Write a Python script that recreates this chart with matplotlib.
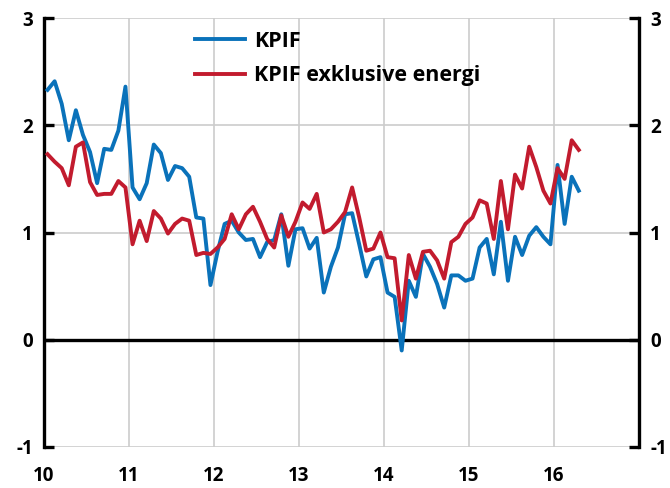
import matplotlib.pyplot as plt
import numpy as np

# monthly values, Jan 2010 - Apr 2016
kpif = [2.33, 2.41, 2.20, 1.86, 2.14, 1.91, 1.75, 1.46, 1.78, 1.77, 1.95, 2.36,
        1.42, 1.31, 1.46, 1.82, 1.74, 1.49, 1.62, 1.60, 1.52, 1.14, 1.13, 0.51,
        0.82, 1.08, 1.11, 1.00, 0.93, 0.94, 0.77, 0.91, 0.93, 1.17, 0.69, 1.03,
        1.04, 0.85, 0.95, 0.44, 0.68, 0.86, 1.17, 1.18, 0.89, 0.59, 0.75, 0.77,
        0.44, 0.40, -0.10, 0.55, 0.40, 0.80, 0.68, 0.52, 0.30, 0.60, 0.60, 0.55,
        0.57, 0.86, 0.94, 0.61, 1.10, 0.55, 0.96, 0.79, 0.97, 1.05, 0.96, 0.89,
        1.63, 1.08, 1.52, 1.39]
kpif_ex = [1.73, 1.66, 1.60, 1.44, 1.80, 1.84, 1.47, 1.35, 1.36, 1.36, 1.48, 1.42,
           0.89, 1.11, 0.92, 1.20, 1.13, 0.99, 1.08, 1.13, 1.11, 0.79, 0.81, 0.80,
           0.86, 0.94, 1.17, 1.03, 1.17, 1.24, 1.10, 0.94, 0.86, 1.16, 0.96, 1.10,
           1.28, 1.22, 1.36, 1.00, 1.03, 1.10, 1.19, 1.42, 1.14, 0.83, 0.85, 1.00,
           0.77, 0.76, 0.18, 0.79, 0.57, 0.82, 0.83, 0.74, 0.57, 0.91, 0.96, 1.08,
           1.14, 1.30, 1.27, 0.94, 1.48, 1.03, 1.54, 1.41, 1.80, 1.61, 1.39, 1.27,
           1.60, 1.50, 1.86, 1.77]
years = [2010, 2011, 2012, 2013, 2014, 2015, 2016, 2017]
year_labels = ['10', '11', '12', '13', '14', '15', '16', '']

blue = '#0A72BA'
red = '#C21B2E'

plt.rcParams['font.family'] = ['Open Sans', 'DejaVu Sans']
plt.rcParams['font.weight'] = 'bold'
plt.rcParams['axes.unicode_minus'] = False

fig = plt.figure(figsize=(6.7, 4.88), dpi=100)
ax = fig.add_axes([44 / 670, 1 - 447 / 488, 595 / 670, 429 / 488])

t = 2010 + (np.arange(len(kpif)) + 0.5) / 12
ax.plot(t, kpif, color=blue, lw=2.8, label='KPIF', zorder=3)
ax.plot(t, kpif_ex, color=red, lw=2.8, label='KPIF exklusive energi', zorder=3)

ax.set_xlim(2010, 2017)
ax.set_ylim(-1, 3)
ax.set_xticks(years)
ax.set_xticklabels(year_labels)
ax.set_yticks([-1, 0, 1, 2, 3])

ax.grid(True, color='#cccccc', lw=1.2, zorder=0)
ax.axhline(0, color='black', lw=2.4, zorder=2)

for s in ['top', 'bottom']:
    ax.spines[s].set_visible(False)
for s in ['left', 'right']:
    ax.spines[s].set_linewidth(2.4)

ax.tick_params(axis='y', direction='in', length=7, width=2.4, labelsize=13.5,
               left=True, right=True, labelleft=True, labelright=True, pad=8)
ax.tick_params(axis='x', length=0, labelsize=13.5, pad=14)

fig.legend(loc='upper left', bbox_to_anchor=(195 / 670, 1 - 31 / 488),
           frameon=False, fontsize=15.5, handlelength=2.3, handletextpad=0.45,
           labelspacing=0.62, borderpad=0, borderaxespad=0)

fig.savefig('out.png', dpi=100)
